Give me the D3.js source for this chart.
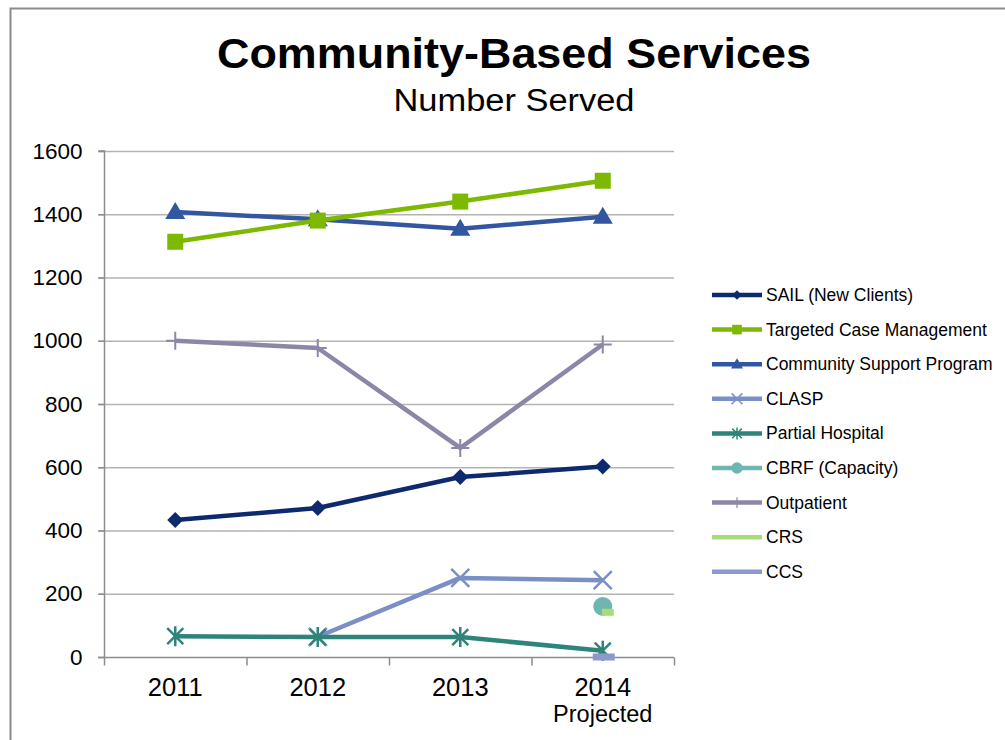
<!DOCTYPE html>
<html><head><meta charset="utf-8">
<script src="https://cdn.jsdelivr.net/npm/d3@7"></script>
<style>body{margin:0;background:#fff}svg{display:block;font-family:Arial,"Liberation Sans",sans-serif}</style>
</head><body><svg id="c" width="1005" height="740"></svg>
<script>
const categories = ["2011","2012","2013","2014"];
const categorySub = ["","","","Projected"];
const yTicks = [0,200,400,600,800,1000,1200,1400,1600];
const seriesNames = ["SAIL (New Clients)","Targeted Case Management","Community Support Program","CLASP","Partial Hospital","CBRF (Capacity)","Outpatient","CRS","CCS"];
const sail = [433, 471, 569, 602];
const tcm = [1313, 1380, 1440, 1506];
const csp = [1407, 1384, 1354, 1392];
const clasp = [null, 64, 250, 243];
const partial = [66, 63, 63, 20];
const cbrf = [null, null, null, 160];
const outpatient = [1000, 977, 661, 988];
const crs = [null, null, null, 143];
const ccs = [null, null, null, 0];
const colors = ["#0e2a6f","#7cb900","#3256a0","#7b8fc6","#2e8479","#6fb5b1","#8a88a6","#a8dc78","#8c9acb"];
const markers = ["diamond","square","triangle","x","star","circle","plus","none","none"];
const values = [sail,tcm,csp,clasp,partial,cbrf,outpatient,crs,ccs];

const svg = d3.select("#c");
// frame
svg.append("path").attr("d","M10.5,740 V8.5 H1005").attr("fill","none").attr("stroke","#8c8c8c").attr("stroke-width",2);

const x = d3.scaleBand().domain(categories).range([104,674]).padding(0);
const y = d3.scaleLinear().domain([0,1600]).range([657,151]);

// gridlines
svg.append("g").selectAll("line").data(yTicks.filter(d=>d>0)).join("line")
  .attr("x1",98).attr("x2",674).attr("y1",d=>y(d)+0.5).attr("y2",d=>y(d)+0.5)
  .attr("stroke","#b3b3b3").attr("stroke-width",1.5);

// y axis
const ya = svg.append("g").attr("transform","translate(104.5,0)")
  .call(d3.axisLeft(y).tickValues(yTicks).tickSize(6).tickPadding(16).tickFormat(d3.format("d")));
ya.select(".domain").attr("stroke","#8c8c8c").attr("stroke-width",1.5).attr("d","M-6,"+y(1600)+"H0V"+y(0));
ya.selectAll(".tick line").attr("stroke","#8c8c8c").attr("stroke-width",1.5);
ya.selectAll("text").attr("font-size",22.5).attr("fill","#000").attr("font-family","Arial, Liberation Sans, sans-serif");

// x axis
const xa = svg.append("g").attr("transform","translate(0,"+(y(0)+0.5)+")");
xa.append("line").attr("x1",98).attr("x2",674).attr("stroke","#8c8c8c").attr("stroke-width",1.5);
const bounds = categories.map(c=>x(c)).concat([x.range()[1]]);
xa.selectAll("line.t").data(bounds).join("line").attr("class","t")
  .attr("x1",d=>d+0.5).attr("x2",d=>d+0.5).attr("y1",0).attr("y2",8)
  .attr("stroke","#8c8c8c").attr("stroke-width",1.5);
xa.selectAll("text.c").data(categories).join("text").attr("class","c")
  .attr("x",d=>x(d)+x.bandwidth()/2).attr("y",38).attr("text-anchor","middle")
  .attr("font-size",25.5).text(d=>d);
xa.selectAll("text.s").data(categorySub).join("text").attr("class","s")
  .attr("x",(d,i)=>x(categories[i])+x.bandwidth()/2).attr("y",64).attr("text-anchor","middle")
  .attr("font-size",23.5).text(d=>d);

// title
svg.append("text").attr("x",514).attr("y",68).attr("text-anchor","middle")
  .attr("font-size",43).attr("font-weight","bold").attr("textLength",594).attr("lengthAdjust","spacingAndGlyphs")
  .text("Community-Based Services");
svg.append("text").attr("x",514).attr("y",111).attr("text-anchor","middle")
  .attr("font-size",31).attr("textLength",241).attr("lengthAdjust","spacingAndGlyphs")
  .text("Number Served");

function drawMarker(g, type, cx, cy, color, s) {
  s = s || 1;
  if (type==="diamond") g.append("path").attr("d",`M${cx},${cy-8*s}L${cx+8*s},${cy}L${cx},${cy+8*s}L${cx-8*s},${cy}Z`).attr("fill",color);
  else if (type==="square") g.append("rect").attr("x",cx-8*s).attr("y",cy-8*s).attr("width",16*s).attr("height",16*s).attr("fill",color);
  else if (type==="triangle") g.append("path").attr("d",`M${cx},${cy-10*s}L${cx+10*s},${cy+7*s}L${cx-10*s},${cy+7*s}Z`).attr("fill",color);
  else if (type==="x") g.append("path").attr("d",`M${cx-9*s},${cy-9*s}L${cx+9*s},${cy+9*s}M${cx+9*s},${cy-9*s}L${cx-9*s},${cy+9*s}`).attr("stroke",color).attr("stroke-width",2.5*s);
  else if (type==="star") g.append("path").attr("d",`M${cx-8*s},${cy-8*s}L${cx+8*s},${cy+8*s}M${cx+8*s},${cy-8*s}L${cx-8*s},${cy+8*s}M${cx},${cy-10*s}V${cy+10*s}`).attr("stroke",color).attr("stroke-width",2.5*s);
  else if (type==="circle") g.append("circle").attr("cx",cx).attr("cy",cy).attr("r",9.5*s).attr("fill",color);
  else if (type==="plus") g.append("path").attr("d",`M${cx-9*s},${cy}H${cx+9*s}M${cx},${cy-9*s}V${cy+9*s}`).attr("stroke",color).attr("stroke-width",2*s);
}

const line = d3.line().defined(d=>d.v!=null).x(d=>x(d.c)+x.bandwidth()/2).y(d=>y(d.v));
const plot = svg.append("g");
// drawing order
const order = [6,3,4,0,2,1,5,7,8];
order.forEach(i=>{
  const g = plot.append("g");
  const pts = values[i].map((v,j)=>({c:categories[j],v:v}));
  g.append("path").attr("d",line(pts)).attr("fill","none").attr("stroke",colors[i]).attr("stroke-width",4.5).attr("stroke-linejoin","round");
  pts.filter(p=>p.v!=null).forEach(p=>{
    const cx = x(p.c)+x.bandwidth()/2, cy = y(p.v);
    if (i===7) g.append("rect").attr("x",cx-1).attr("y",cy-3).attr("width",12).attr("height",7).attr("fill",colors[i]);
    else if (i===8) g.append("rect").attr("x",cx-10).attr("y",cy-3.5).attr("width",22).attr("height",7).attr("fill",colors[i]);
    else drawMarker(g, markers[i], cx, cy, colors[i]);
  });
});

// legend
const leg = svg.append("g");
seriesNames.forEach((n,i)=>{
  const ly = 295 + i*34.6;
  leg.append("line").attr("x1",712).attr("x2",762).attr("y1",ly).attr("y2",ly).attr("stroke",colors[i]).attr("stroke-width",4.5);
  if (markers[i]!=="none") drawMarker(leg, markers[i], 737, ly, colors[i], 0.6);
  leg.append("text").attr("x",766).attr("y",ly+6).attr("font-size",17.5).text(n);
});
</script></body></html>
